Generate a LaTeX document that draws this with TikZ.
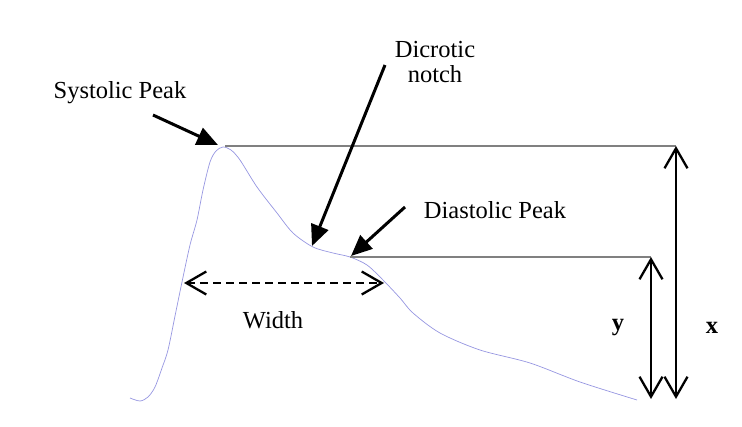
\documentclass[tikz,border=0pt]{standalone}
\usepackage{fontspec}
\setmainfont{Liberation Serif}
\usetikzlibrary{arrows.meta}
\begin{document}
\begin{tikzpicture}[x=1pt,y=-1pt,
  lbl/.style={font=\fontsize{24.5}{28}\selectfont, inner sep=0pt, align=center},
  pointer/.style={line width=3pt, -{Triangle[length=21pt,width=18pt]}},
  guide/.style={line width=2.4pt, draw={rgb,255:red,128;green,128;blue,128}},
  dim/.style={line width=2.3pt, {Straight Barb[length=20pt,width=23pt]}-{Straight Barb[length=20pt,width=23pt]}},
  wave/.style={line width=0.7pt, draw={rgb,255:red,150;green,150;blue,225}}]
\useasboundingbox (0,0) rectangle (742,426);
% waveform
\draw[wave] plot[smooth, tension=0.5] coordinates {
 (130,398) (140,401) (148,397) (155,387) (162,368) (168,350) (175,316) (182,282)
 (190,245) (197,220) (203,190) (210,162) (216,151) (223,147) (231,150) (240,160)
 (257,187) (277,213) (293,233) (313,247) (333,253) (350,257) (367,265) (383,280)
 (400,298) (413,313) (440,333) (480,350) (530,363) (580,382) (637,400)};
% key points
\coordinate (sp) at (218,145);
\coordinate (dn) at (312,246);
\coordinate (dp) at (351,256);
% guide lines
\coordinate (g1a) at (225,146); \coordinate (g1b) at (676,146);
\coordinate (g2a) at (350,257); \coordinate (g2b) at (651,257);
\draw[guide] (g1a) -- (g1b);
\draw[guide] (g2a) -- (g2b);
% dimension arrows
\coordinate (xb) at (676,399);
\coordinate (yb) at (651,399);
\draw[dim] (xb) -- (g1b);
\draw[dim] (yb) -- (g2b);
\node[lbl, font=\fontsize{24.5}{28}\selectfont\bfseries] (ylab) at (618,328) {y};
\node[lbl, font=\fontsize{24.5}{28}\selectfont\bfseries] (xlab) at (712,328) {x};
% width arrow
\coordinate (wl) at (184,283);
\coordinate (wr) at (384,283);
\draw[dim, dash pattern=on 8pt off 5pt] (wl) -- (wr);
\node[lbl] (wlab) at (273,320) {Width};
% labels
\node[lbl] (splab) at (120,93) {Systolic Peak};
\node[lbl] (dnlab) at (435,62) {Dicrotic\\[-3pt]notch};
\node[lbl] (dplab) at (495,210) {Diastolic Peak};
\coordinate (sps) at (153,115);
\coordinate (dns) at (385,65);
\coordinate (dps) at (405,207);
\draw[pointer] (sps) -- (sp);
\draw[pointer] (dns) -- (dn);
\draw[pointer] (dps) -- (dp);
\end{tikzpicture}
\end{document}
